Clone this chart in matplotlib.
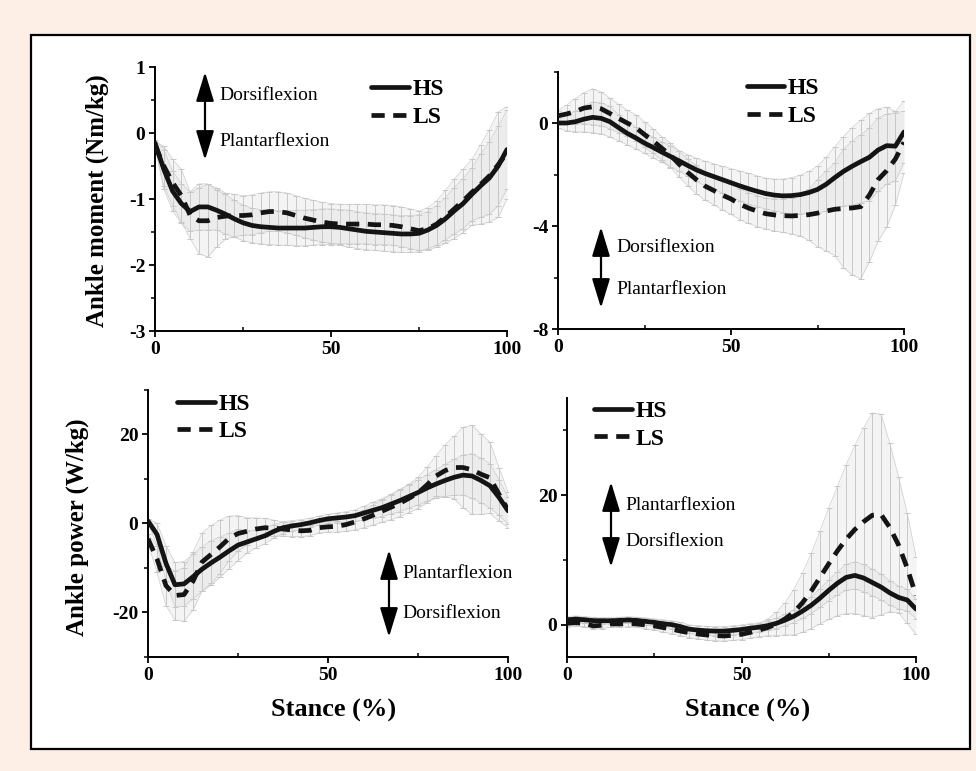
import matplotlib
matplotlib.use('Agg')
import matplotlib.pyplot as plt
import numpy as np
from matplotlib.patches import Rectangle, FancyArrowPatch
from matplotlib.ticker import MultipleLocator

plt.rcParams['font.family'] = ['Liberation Serif', 'DejaVu Serif']
plt.rcParams['axes.unicode_minus'] = False

W, H = 976, 771

# stance (% of stance phase)
stance = [0, 2.5, 5, 7.5, 10, 12.5, 15, 17.5, 20, 22.5, 25, 27.5, 30, 32.5, 35, 37.5, 40,
          42.5, 45, 47.5, 50, 52.5, 55, 57.5, 60, 62.5, 65, 67.5, 70, 72.5, 75, 77.5, 80,
          82.5, 85, 87.5, 90, 92.5, 95, 97.5, 100]

# ---- ankle moment, left panel (Nm/kg)
mom1_hs = [-0.15, -0.55, -0.88, -1.07, -1.19, -1.12, -1.12, -1.17, -1.23, -1.30, -1.36, -1.40,
           -1.42, -1.43, -1.44, -1.44, -1.44, -1.44, -1.43, -1.42, -1.42, -1.43, -1.45, -1.47,
           -1.49, -1.50, -1.51, -1.52, -1.53, -1.53, -1.52, -1.47, -1.40, -1.30, -1.18, -1.07,
           -0.93, -0.80, -0.68, -0.50, -0.25]
mom1_ls = [-0.18, -0.50, -0.75, -0.95, -1.25, -1.33, -1.33, -1.28, -1.26, -1.25, -1.25, -1.24,
           -1.21, -1.19, -1.19, -1.21, -1.25, -1.29, -1.32, -1.35, -1.37, -1.38, -1.38, -1.38,
           -1.38, -1.39, -1.39, -1.40, -1.42, -1.45, -1.48, -1.45, -1.38, -1.27, -1.15, -1.03,
           -0.90, -0.78, -0.65, -0.48, -0.30]
mom1_hs_sd = [0.05, 0.30, 0.30, 0.30, 0.30, 0.35, 0.35, 0.30, 0.30, 0.28, 0.27, 0.26, 0.26,
              0.26, 0.26, 0.26, 0.27, 0.27, 0.27, 0.27, 0.27, 0.27, 0.28, 0.28, 0.28, 0.28,
              0.28, 0.28, 0.28, 0.28, 0.28, 0.28, 0.30, 0.32, 0.35, 0.38, 0.40, 0.48, 0.55,
              0.60, 0.60]
mom1_ls_sd = [0.05, 0.30, 0.35, 0.40, 0.35, 0.50, 0.55, 0.45, 0.35, 0.32, 0.30, 0.30, 0.30,
              0.30, 0.30, 0.30, 0.30, 0.30, 0.30, 0.30, 0.30, 0.30, 0.30, 0.30, 0.30, 0.30,
              0.30, 0.30, 0.30, 0.30, 0.30, 0.32, 0.35, 0.40, 0.45, 0.48, 0.50, 0.60, 0.70,
              0.80, 0.70]

# ---- ankle moment, right panel (Nm/kg)
mom2_hs = [0.00, 0.00, 0.05, 0.15, 0.22, 0.18, 0.05, -0.18, -0.40, -0.58, -0.78, -0.95, -1.13,
           -1.30, -1.47, -1.65, -1.82, -1.96, -2.08, -2.20, -2.32, -2.44, -2.55, -2.65, -2.74,
           -2.80, -2.83, -2.82, -2.78, -2.70, -2.58, -2.38, -2.12, -1.88, -1.68, -1.50, -1.33,
           -1.05, -0.88, -0.90, -0.35]
mom2_ls = [0.28, 0.35, 0.45, 0.58, 0.63, 0.55, 0.37, 0.18, 0.00, -0.18, -0.45, -0.70, -0.98,
           -1.25, -1.60, -1.92, -2.20, -2.45, -2.62, -2.80, -2.95, -3.15, -3.30, -3.42, -3.52,
           -3.57, -3.60, -3.61, -3.59, -3.56, -3.50, -3.42, -3.35, -3.32, -3.30, -3.25, -2.80,
           -2.20, -1.85, -1.40, -0.75]
mom2_hs_sd = [0.20, 0.30, 0.40, 0.50, 0.60, 0.60, 0.60, 0.50, 0.45, 0.42, 0.40, 0.40, 0.40,
              0.40, 0.40, 0.42, 0.45, 0.48, 0.50, 0.52, 0.55, 0.58, 0.60, 0.60, 0.60, 0.62,
              0.65, 0.70, 0.75, 0.82, 0.90, 1.05, 1.20, 1.35, 1.50, 1.60, 1.70, 1.60, 1.50,
              1.35, 1.20]
mom2_ls_sd = [0.20, 0.35, 0.50, 0.60, 0.70, 0.65, 0.60, 0.55, 0.50, 0.50, 0.50, 0.48, 0.45,
              0.48, 0.50, 0.52, 0.55, 0.55, 0.55, 0.58, 0.60, 0.60, 0.60, 0.60, 0.60, 0.62,
              0.65, 0.70, 0.80, 1.00, 1.30, 1.55, 1.80, 2.30, 2.60, 2.80, 2.60, 2.40, 2.20,
              1.80, 1.20]

# ---- ankle power, left panel (W/kg)
pow1_hs = [0.5, -2.5, -9.0, -13.8, -13.6, -12.0, -10.3, -8.9, -7.6, -6.2, -4.9, -4.2, -3.5,
           -2.8, -1.8, -1.0, -0.6, -0.3, 0.1, 0.6, 1.0, 1.2, 1.4, 1.7, 2.3, 2.9, 3.5, 4.3, 5.1,
           6.0, 6.9, 7.9, 8.8, 9.6, 10.3, 10.8, 10.6, 9.6, 8.4, 5.8, 2.8]
pow1_ls = [-3.5, -8.0, -14.0, -16.2, -16.0, -13.0, -8.7, -7.0, -5.3, -3.4, -2.3, -1.8, -1.3,
           -1.0, -1.1, -1.3, -1.5, -1.7, -1.6, -1.0, -0.8, -0.7, -0.3, 0.3, 1.0, 1.8, 2.7, 3.6,
           4.5, 5.6, 6.8, 8.6, 10.6, 11.8, 12.5, 12.5, 12.0, 11.0, 10.2, 6.5, 3.0]
pow1_hs_sd = [0.5, 2.5, 4.0, 5.0, 5.0, 5.0, 5.0, 5.0, 4.5, 4.0, 3.5, 2.5, 2.0, 1.8, 1.5, 1.3,
              1.2, 1.1, 1.0, 1.0, 1.0, 1.1, 1.2, 1.3, 1.5, 1.8, 2.0, 2.2, 2.5, 2.6, 2.8, 3.0,
              3.2, 3.6, 4.0, 4.5, 5.0, 5.0, 5.0, 4.0, 3.0]
pow1_ls_sd = [1.0, 3.0, 4.5, 5.5, 6.0, 6.5, 6.5, 6.5, 6.0, 5.0, 4.0, 3.0, 2.5, 2.1, 1.8, 1.6,
              1.5, 1.3, 1.2, 1.2, 1.2, 1.3, 1.5, 1.8, 2.0, 2.2, 2.5, 2.8, 3.0, 3.2, 3.5, 4.0,
              4.5, 5.8, 7.0, 9.0, 10.0, 9.0, 8.0, 6.0, 4.0]

# ---- ankle power, right panel (W/kg)
pow2_hs = [0.75, 0.85, 0.75, 0.62, 0.60, 0.60, 0.65, 0.72, 0.65, 0.50, 0.35, 0.15, 0.00,
           -0.30, -0.70, -0.85, -0.95, -1.00, -1.00, -0.88, -0.75, -0.55, -0.40, -0.15, 0.20,
           0.70, 1.30, 2.10, 3.00, 4.10, 5.30, 6.40, 7.30, 7.60, 7.20, 6.50, 5.80, 4.90, 4.20,
           3.80, 2.40]
pow2_ls = [0.20, 0.30, 0.20, -0.20, -0.10, 0.10, 0.10, 0.15, 0.10, -0.05, -0.20, -0.45, -0.70,
           -1.00, -1.25, -1.45, -1.60, -1.70, -1.75, -1.65, -1.50, -1.20, -0.85, -0.45, 0.10,
           0.90, 1.90, 3.40, 5.20, 7.30, 9.40, 11.40, 13.20, 14.70, 15.90, 16.90, 17.00, 15.00,
           12.30, 8.70, 4.50]
pow2_hs_sd = [0.5, 0.5, 0.5, 0.5, 0.5, 0.5, 0.5, 0.5, 0.5, 0.55, 0.55, 0.6, 0.6, 0.65, 0.65,
              0.7, 0.7, 0.7, 0.7, 0.7, 0.7, 0.7, 0.7, 0.75, 0.8, 0.9, 1.0, 1.15, 1.3, 1.45, 1.6,
              1.8, 2.0, 2.1, 2.1, 2.05, 2.0, 1.9, 1.8, 1.65, 1.5]
pow2_ls_sd = [0.5, 0.5, 0.5, 0.5, 0.5, 0.5, 0.5, 0.5, 0.5, 0.6, 0.6, 0.7, 0.7, 0.7, 0.75,
              0.75, 0.8, 0.8, 0.8, 0.8, 0.8, 0.9, 1.0, 1.3, 1.8, 2.5, 3.5, 4.6, 5.8, 7.2, 8.6,
              10.0, 11.5, 13.0, 14.5, 15.8, 15.5, 13.0, 10.5, 8.5, 6.0]

panels = [
    # (mean HS, mean LS, sd HS, sd LS, rect px (l, t, r, b), ylim, major, minor)
    (mom1_hs, mom1_ls, mom1_hs_sd, mom1_ls_sd, (155, 67, 507, 331), (-3, 1), 1, 0.5),
    (mom2_hs, mom2_ls, mom2_hs_sd, mom2_ls_sd, (558, 71.5, 904, 329), (-8, 2), 4, 2),
    (pow1_hs, pow1_ls, pow1_hs_sd, pow1_ls_sd, (148, 389.5, 508, 657), (-30, 30), 20, 10),
    (pow2_hs, pow2_ls, pow2_hs_sd, pow2_ls_sd, (567, 398, 916, 657), (-5, 35), 20, 10),
]

legend_pos = [(0.615, 0.955), (0.545, 0.975), (0.08, 0.985), (0.078, 0.99)]

# double arrows: (x, y_top, y_bottom, upper label, lower label, text x, text y1, text y2)
arrows = [
    (205, 72, 160, 'Dorsiflexion', 'Plantarflexion', 219, 96, 142),
    (601, 227, 308, 'Dorsiflexion', 'Plantarflexion', 616, 247, 290),
    (389, 550, 637, 'Plantarflexion', 'Dorsiflexion', 402, 574, 613),
    (611, 482, 567, 'Plantarflexion', 'Dorsiflexion', 625, 505, 542),
]

ink = '#141414'
bar_c = '#c8c8c8'

fig = plt.figure(figsize=(W / 100, H / 100), dpi=100, facecolor='#fdeee6')
fig.patches.append(Rectangle((31 / W, 1 - 749 / H), (970 - 31) / W, (749 - 35) / H,
                             transform=fig.transFigure, facecolor='white',
                             edgecolor='black', lw=1.6, zorder=-5))

for i, (hs, ls, hs_sd, ls_sd, (l, t, r, b), ylim, maj, mnr) in enumerate(panels):
    ax = fig.add_axes([l / W, 1 - b / H, (r - l) / W, (b - t) / H])
    ax.patch.set_alpha(0)
    for m, s in ((hs, hs_sd), (ls, ls_sd)):
        m = np.array(m); s = np.array(s)
        # dense SD bars read as a pale band with thin grey edges
        ax.fill_between(stance, m - s, m + s, color='#dcdcdc', alpha=0.3, lw=0, zorder=0)
        ax.plot(stance, m - s, color='#cdcdcd', lw=0.5, zorder=1)
        ax.plot(stance, m + s, color='#cdcdcd', lw=0.5, zorder=1)
        ax.errorbar(stance, m, yerr=s, fmt='none', ecolor=bar_c, elinewidth=0.7,
                    capsize=2.2, capthick=0.7, zorder=1)
    ax.plot(stance, hs, color=ink, lw=3.4, solid_capstyle='round', zorder=3, label='HS')
    ax.plot(stance, ls, color=ink, lw=3.4, ls=(0, (2.8, 1.8)), zorder=3, label='LS')
    ax.set_xlim(0, 100)
    ax.set_ylim(*ylim)
    ax.xaxis.set_major_locator(MultipleLocator(50))
    ax.xaxis.set_minor_locator(MultipleLocator(25))
    ax.yaxis.set_major_locator(MultipleLocator(maj))
    ax.yaxis.set_minor_locator(MultipleLocator(mnr))
    for sp in ('top', 'right'):
        ax.spines[sp].set_visible(False)
    for sp in ('left', 'bottom'):
        ax.spines[sp].set_linewidth(1.4)
    ax.tick_params(which='major', length=4, width=1.3, labelsize=14, pad=3)
    ax.tick_params(which='minor', length=3, width=1.1)
    ax.tick_params(axis='x', which='minor', direction='in')
    for lab in ax.get_xticklabels() + ax.get_yticklabels():
        lab.set_fontweight('bold')
    lx, ly = legend_pos[i]
    ax.legend(loc='upper left', bbox_to_anchor=(lx, ly), frameon=False, handlelength=1.6,
              handletextpad=0.15, labelspacing=0.25, borderpad=0, borderaxespad=0,
              prop={'family': 'Liberation Serif', 'weight': 'bold', 'size': 17})

for x, yt, yb, up, dn, tx, ty1, ty2 in arrows:
    fig.add_artist(FancyArrowPatch((x / W, 1 - yb / H), (x / W, 1 - yt / H),
                                   transform=fig.transFigure,
                                   arrowstyle='<|-|>,head_length=1.8,head_width=0.55',
                                   mutation_scale=10, color='black', lw=1.6,
                                   shrinkA=0, shrinkB=0, zorder=5))
    fig.text(tx / W, 1 - ty1 / H, up, fontsize=14, va='center', ha='left')
    fig.text(tx / W, 1 - ty2 / H, dn, fontsize=14, va='center', ha='left')

fig.text(97 / W, 1 - 201 / H, 'Ankle moment (Nm/kg)', rotation=90, ha='center', va='center',
         fontsize=18, fontweight='bold')
fig.text(77 / W, 1 - 527 / H, 'Ankle power (W/kg)', rotation=90, ha='center', va='center',
         fontsize=18, fontweight='bold')
fig.text(334 / W, 1 - 710 / H, 'Stance (%)', ha='center', va='center', fontsize=19,
         fontweight='bold')
fig.text(748 / W, 1 - 710 / H, 'Stance (%)', ha='center', va='center', fontsize=19,
         fontweight='bold')

fig.savefig('out.png', dpi=100, facecolor=fig.get_facecolor())
